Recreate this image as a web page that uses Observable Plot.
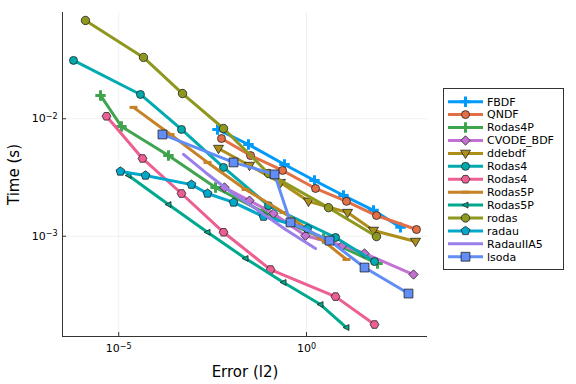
<!DOCTYPE html>
<html><head><meta charset="utf-8">
<script src="https://cdn.jsdelivr.net/npm/d3@7"></script>
<script src="https://cdn.jsdelivr.net/npm/@observablehq/plot@0.6"></script>
<style>body{margin:0;background:#fff;} svg{font-family:"DejaVu Sans",sans-serif;}</style>
</head><body><div id="chart"></div>
<script>
// ---- data ----
const solvers = ["FBDF","QNDF","Rodas4P","CVODE_BDF","ddebdf","Rodas4","Rodas4","Rodas5P","Rodas5P","rodas","radau","RadauIIA5","lsoda"];
const errFBDF = [4.27e-3, 2.85e-2, 0.259, 1.63, 9.66, 60.8, 318];
const timeFBDF = [8.11e-3, 6.04e-3, 4.08e-3, 2.98e-3, 2.22e-3, 1.66e-3, 1.19e-3];
const errQNDF = [5.45e-3, 3.23e-2, 0.230, 1.74, 11.6, 73.1, 849];
const timeQNDF = [6.79e-3, 4.86e-3, 3.63e-3, 2.55e-3, 1.98e-3, 1.50e-3, 1.14e-3];
const errRodas4P = [3.27e-6, 1.18e-5, 2.11e-4, 3.78e-3, 6.73e-2, 2.84, 77.8];
const timeRodas4P = [1.58e-2, 8.59e-3, 4.86e-3, 2.60e-3, 1.62e-3, 9.55e-4, 5.85e-4];
const errCVODE = [6.55e-3, 3.03e-2, 0.132, 0.940, 9.10, 35.1, 708];
const timeCVODE = [2.60e-3, 2.01e-3, 1.56e-3, 1.01e-3, 8.34e-4, 7.13e-4, 4.72e-4];
const errDdebdf = [4.53e-3, 3.03e-2, 0.203, 1.13, 12.4, 60.8, 800];
const timeDdebdf = [5.58e-3, 4.00e-3, 2.86e-3, 1.98e-3, 1.59e-3, 1.12e-3, 9.02e-4];
const errRodas4a = [6.24e-7, 3.79e-5, 4.69e-4, 6.17e-3, 9.73e-2, 5.92, 64.7];
const timeRodas4a = [3.14e-2, 1.61e-2, 8.11e-3, 3.85e-3, 1.82e-3, 9.75e-4, 6.08e-4];
const errRodas4b = [4.72e-6, 4.29e-5, 4.69e-4, 6.17e-3, 0.110, 5.92, 64.7];
const timeRodas4b = [1.05e-2, 4.59e-3, 2.31e-3, 1.08e-3, 5.20e-4, 3.06e-4, 1.77e-4];
const errRodas5Pa = [2.47e-5, 2.39e-4, 2.31e-3, 2.38e-2, 0.244, 2.36, 11.6];
const timeRodas5Pa = [1.25e-2, 7.35e-3, 4.25e-3, 2.50e-3, 1.59e-3, 9.55e-4, 6.34e-4];
const errRodas5Pb = [1.82e-5, 2.11e-4, 2.31e-3, 2.38e-2, 0.244, 2.36, 11.6];
const timeRodas5Pb = [3.29e-3, 1.86e-3, 1.08e-3, 6.46e-4, 4.04e-4, 2.62e-4, 1.67e-4];
const errRodas = [1.30e-6, 4.56e-5, 4.99e-4, 6.17e-3, 9.73e-2, 3.85, 73.1];
const timeRodas = [6.87e-2, 3.33e-2, 1.64e-2, 8.26e-3, 3.42e-3, 1.75e-3, 9.93e-4];
const errRadau = [1.11e-5, 5.15e-5, 8.65e-4, 2.31e-3, 1.14e-2, 7.16e-2, 1.06];
const timeRadau = [3.56e-3, 3.29e-3, 2.75e-3, 2.31e-3, 1.94e-3, 1.47e-3, 1.16e-3];
const errRadauIIA5 = [5.30e-4, 2.04e-3, 7.87e-3, 4.39e-2, 0.276, 1.74];
const timeRadauIIA5 = [4.97e-3, 3.49e-3, 2.50e-3, 1.72e-3, 1.14e-3, 7.85e-4];
const errLsoda = [1.46e-4, 1.14e-2, 0.141, 0.375, 4.10, 35.1, 520];
const timeLsoda = [7.35e-3, 4.25e-3, 3.36e-3, 1.31e-3, 9.18e-4, 5.41e-4, 3.25e-4];
const xTicks = [1e-5, 1];
const yTicks = [1e-3, 1e-2];
const xDomain = [3.18e-7, 1667];
const yDomain = [1.40e-4, 8.03e-2];

// ---- marker shapes ----
const Rs = s => Math.sqrt(s / Math.PI);
function poly(pts){return {draw(c,s){const r=Rs(s); pts.forEach(([x,y],i)=> i? c.lineTo(x*r,y*r) : c.moveTo(x*r,y*r)); c.closePath();}};}
const symCircle = d3.symbolCircle;
const symSquare = {draw(c,s){const r=Rs(s)*1.05; c.rect(-r,-r,2*r,2*r);}};
const symDiamond = poly([[0,-1.3],[1.3,0],[0,1.3],[-1.3,0]]);
const symDTri = poly([[-1.25,-0.8],[1.25,-0.8],[0,1.3]]);
const symLTri = poly([[-1.2,0],[0.9,-1.05],[0.9,1.05]]);
const symPent = poly(d3.range(5).map(k=>{const a=-Math.PI/2+k*2*Math.PI/5; return [1.15*Math.cos(a),1.15*Math.sin(a)];}));
const symHex = poly(d3.range(6).map(k=>{const a=k*Math.PI/3; return [1.1*Math.cos(a),1.1*Math.sin(a)];}));
const symCross = {draw(c,s){const r=Rs(s)*1.3; c.moveTo(-r,0); c.lineTo(r,0); c.moveTo(0,-r); c.lineTo(0,r);}};
const symHline = {draw(c,s){const r=Rs(s); c.moveTo(-r,0); c.lineTo(r,0);}};

const series = [
  {err: errFBDF, time: timeFBDF, color:"#009AFA", sym:symCross, r:4, open:true},
  {err: errQNDF, time: timeQNDF, color:"#E36F47", sym:symCircle, r:4},
  {err: errRodas4P, time: timeRodas4P, color:"#3EA44E", sym:symCross, r:4, open:true},
  {err: errCVODE, time: timeCVODE, color:"#C371D2", sym:symDiamond, r:3.6},
  {err: errDdebdf, time: timeDdebdf, color:"#AC8E18", sym:symDTri, r:4},
  {err: errRodas4a, time: timeRodas4a, color:"#00AAAE", sym:symCircle, r:4},
  {err: errRodas4b, time: timeRodas4b, color:"#ED5E93", sym:symHex, r:4},
  {err: errRodas5Pa, time: timeRodas5Pa, color:"#C68225", sym:symHline, r:4, open:true},
  {err: errRodas5Pb, time: timeRodas5Pb, color:"#00A98D", sym:symLTri, r:2.8},
  {err: errRodas, time: timeRodas, color:"#8E971E", sym:symCircle, r:4.2},
  {err: errRadau, time: timeRadau, color:"#00A8CB", sym:symPent, r:4},
  {err: errRadauIIA5, time: timeRadauIIA5, color:"#9B7FE9", sym:null},
  {err: errLsoda, time: timeLsoda, color:"#618DF6", sym:symSquare, r:4.2},
].map((s,i)=>({...s, name: solvers[i], data: s.err.map((e,j)=>({err:e, time:s.time[j]}))}));

const marks = [
  Plot.gridX({ticks: xTicks, stroke:"#000", strokeOpacity:0.1, strokeWidth:0.6}),
  Plot.gridY({ticks: yTicks, stroke:"#000", strokeOpacity:0.1, strokeWidth:0.6}),
  Plot.axisX({ticks: xTicks, tickSize: 0, tickPadding: 8, fontSize: 11, tickFormat: d => "10^" + Math.round(Math.log10(d)), label: null}),
  Plot.axisY({ticks: yTicks, tickSize: 0, tickPadding: 5, fontSize: 11, tickFormat: d => "10^" + Math.round(Math.log10(d)), label: null}),
  Plot.ruleX(xTicks, {x: d=>d, y1: yDomain[0], y2: yDomain[0]*1.08, stroke:"#333"}),
  Plot.ruleY(yTicks, {y: d=>d, x1: xDomain[0], x2: xDomain[0]*1.28, stroke:"#333"}),
];
for (const s of series) {
  marks.push(Plot.line(s.data, {x:"err", y:"time", stroke:s.color, strokeWidth:3}));
  if (s.sym) {
    if (s.open) marks.push(Plot.dot(s.data, {x:"err", y:"time", symbol:s.sym, r:s.r, fill:"none", stroke:s.color, strokeWidth:3}));
    else marks.push(Plot.dot(s.data, {x:"err", y:"time", symbol:s.sym, r:s.r, fill:s.color, stroke:"#222", strokeWidth:0.8}));
  }
}
marks.push(Plot.ruleX([xDomain[0]], {stroke:"#333", strokeWidth:1}));
marks.push(Plot.ruleY([yDomain[0]], {stroke:"#333", strokeWidth:1}));
marks.push(Plot.text(["Error (l2)"], {text:d=>d, frameAnchor:"bottom", dy:36, lineAnchor:"middle", textAnchor:"middle", fontSize:15, fill:"#000"}));
marks.push(Plot.text(["Time (s)"], {text:d=>d, frameAnchor:"left", dx:-48, rotate:-90, lineAnchor:"middle", textAnchor:"middle", fontSize:15, fill:"#000"}));

const chart = Plot.plot({
  width: 576, height: 384,
  marginLeft: 62, marginRight: 149, marginTop: 12, marginBottom: 48,
  style: {fontFamily: "DejaVu Sans, sans-serif", fontSize: "11px", background: "#fff", color: "#000"},
  x: {type: "log", domain: xDomain},
  y: {type: "log", domain: yDomain},
  marks
});
document.getElementById("chart").appendChild(chart);

// superscript exponents in tick labels
const svg = d3.select(chart);
svg.selectAll("text").each(function(){
  const t = this.textContent;
  const m = /^10\^(-?\d+)$/.exec(t);
  if (m) {
    const el = d3.select(this);
    el.text("10");
    el.append("tspan").attr("dy","-0.45em").attr("font-size","8px").text(m[1].replace("-","\u2212"));
  }
});

// legend
const lg = svg.append("g").attr("font-family","DejaVu Sans, sans-serif").attr("font-size", 11).attr("text-anchor","start");
lg.append("rect").attr("x",443.5).attr("y",88.5).attr("width",120).attr("height",181).attr("fill","#fff").attr("stroke","#333").attr("stroke-width",1);
series.forEach((s,i)=>{
  const y = 101.7 + 12.92*i;
  lg.append("line").attr("x1",448).attr("x2",483).attr("y1",y).attr("y2",y).attr("stroke",s.color).attr("stroke-width",3);
  if (s.sym) {
    const p = lg.append("path").attr("transform",`translate(465.5,${y})`).attr("d", d3.symbol(s.sym, Math.PI*s.r*s.r)());
    if (s.open) p.attr("fill","none").attr("stroke",s.color).attr("stroke-width",3);
    else p.attr("fill",s.color).attr("stroke","#222").attr("stroke-width",0.8);
  }
  lg.append("text").attr("x",487).attr("y",y).attr("dy","0.35em").attr("text-anchor","start").attr("fill","#000").text(s.name);
});
</script>
</body></html>
